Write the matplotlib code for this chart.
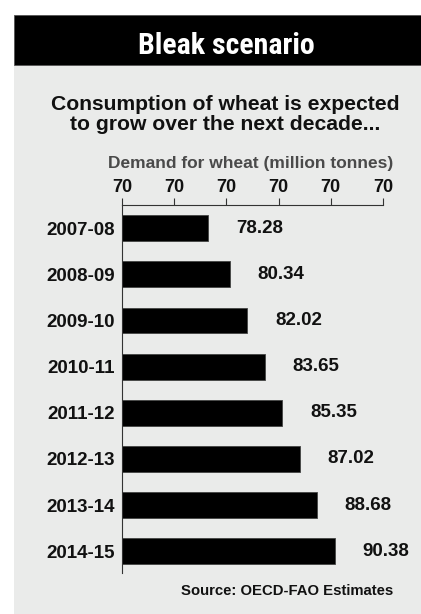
import matplotlib
matplotlib.use("Agg")
import matplotlib.pyplot as plt
import numpy as np
from matplotlib.patches import Rectangle

plt.rcParams["font.family"] = ["Liberation Sans", "DejaVu Sans"]

# Wheat demand projections (million tonnes)
seasons = ["2007-08", "2008-09", "2009-10", "2010-11",
           "2011-12", "2012-13", "2013-14", "2014-15"]
demand = [78.28, 80.34, 82.02, 83.65, 85.35, 87.02, 88.68, 90.38]
tick_values = [70, 75, 80, 85, 90, 95]
tick_labels = ["70", "70", "70", "70", "70", "70"]

W, H = 421, 614
fig = plt.figure(figsize=(W / 100, H / 100), dpi=100)
fig.patch.set_facecolor("white")


def fx(px):
    return px / W


def fy(py):
    return 1 - py / H


# grey panel and black header strip, kept behind the axes
fig.patches.append(Rectangle((fx(14), 0), 1 - fx(14), fy(15), transform=fig.transFigure,
                             facecolor="#eaebea", edgecolor="none", zorder=-2))
fig.patches.append(Rectangle((fx(14), fy(65)), 1 - fx(14), fy(15) - fy(65),
                             transform=fig.transFigure, facecolor="black",
                             edgecolor="#555555", lw=0.6, zorder=-1))

fig.text(fx(226), fy(54), "Bleak scenario", color="white", ha="center", va="baseline",
         fontsize=21.5, fontweight="bold",
         family=["Roboto Condensed", "Liberation Sans Narrow", "Liberation Sans"])

fig.text(fx(225.5), fy(110), "Consumption of wheat is expected", ha="center",
         va="baseline", fontsize=15.2, fontweight="bold", color="#111111")
fig.text(fx(225.5), fy(130), "to grow over the next decade...", ha="center",
         va="baseline", fontsize=15.2, fontweight="bold", color="#111111")
fig.text(fx(393), fy(168), "Demand for wheat (million tonnes)", ha="right",
         va="baseline", fontsize=12.5, fontweight="bold", color="#4a4a4a")
fig.text(fx(393), fy(595), "Source: OECD-FAO Estimates", ha="right",
         va="baseline", fontsize=10.7, fontweight="bold", color="#111111")

ax = fig.add_axes([fx(122), fy(573), fx(383) - fx(122), fy(205) - fy(573)])
ax.set_facecolor("none")

y = np.arange(len(seasons))
ax.barh(y, demand, height=0.56, color="black", edgecolor="#444444", lw=0.6, zorder=2)
for yi, v in zip(y, demand):
    ax.annotate(f"{v:.2f}", (v, yi), xytext=(20, 0), textcoords="offset points",
                ha="left", va="center", fontsize=13.5, fontweight="bold",
                color="#111111")

ax.set_xlim(70, 95)
ax.set_ylim(7.47, -0.5)
ax.xaxis.tick_top()
ax.set_xticks(tick_values)
ax.set_xticklabels(tick_labels, fontsize=13, fontweight="bold", color="#111111")
ax.tick_params(axis="x", length=5, width=0.8, color="#333333", pad=1.5)
ax.set_yticks(y)
ax.set_yticklabels(seasons, fontsize=13.5, fontweight="bold", color="#111111")
ax.tick_params(axis="y", length=0, pad=5)

for side in ["right", "bottom"]:
    ax.spines[side].set_visible(False)
for side in ["top", "left"]:
    ax.spines[side].set_color("#333333")
    ax.spines[side].set_linewidth(0.8)
    ax.spines[side].set_zorder(3)

fig.savefig("out.png", dpi=100)
